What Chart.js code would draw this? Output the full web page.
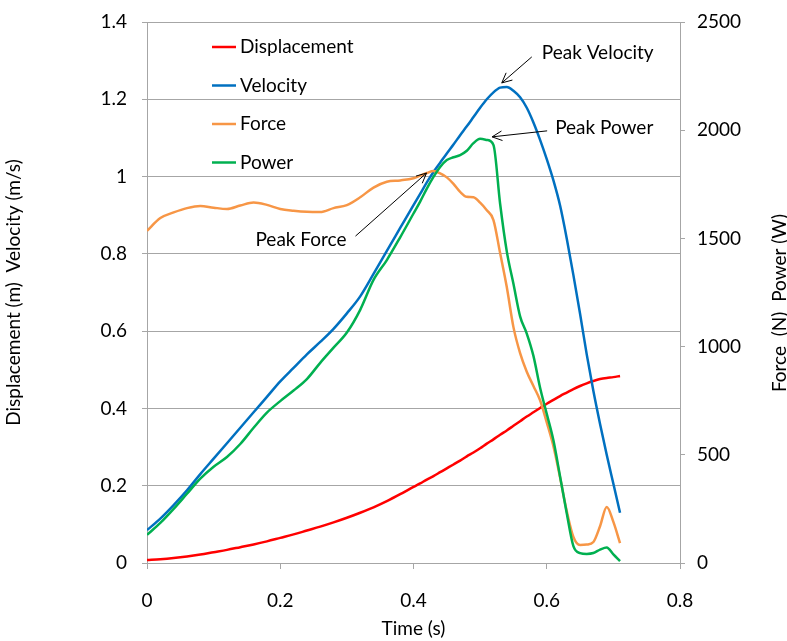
<!DOCTYPE html>
<html>
<head>
<meta charset="utf-8">
<script src="https://cdn.jsdelivr.net/npm/chart.js@4.4.1/dist/chart.umd.min.js"></script>
<style>
  html, body { margin: 0; padding: 0; background: #fff; }
</style>
</head>
<body>
<canvas id="chart" width="787" height="641"></canvas>
<script>
// Tiempo (s): paso de 0.02 hasta 0.38, luego de 0.01
const times = [0, 0.02, 0.04, 0.06, 0.08, 0.10, 0.12, 0.14, 0.16, 0.18,
  0.20, 0.22, 0.24, 0.26, 0.28, 0.30, 0.32, 0.34, 0.36, 0.38,
  0.40, 0.41, 0.42, 0.43, 0.44, 0.45, 0.46, 0.47, 0.48, 0.49,
  0.50, 0.51, 0.52, 0.53, 0.54, 0.55, 0.56, 0.57, 0.58, 0.59,
  0.60, 0.61, 0.62, 0.63, 0.64, 0.65, 0.66, 0.67, 0.68, 0.69,
  0.70, 0.71];

// eje izquierdo (m, m/s)
const displacement = [0.008, 0.010, 0.013, 0.017, 0.022, 0.028, 0.034, 0.041, 0.048, 0.056,
  0.065, 0.074, 0.084, 0.094, 0.105, 0.117, 0.130, 0.144, 0.160, 0.178,
  0.197, 0.206, 0.216, 0.225, 0.235, 0.245, 0.255, 0.265, 0.276, 0.286,
  0.297, 0.309, 0.320, 0.332, 0.343, 0.355, 0.367, 0.379, 0.390, 0.401,
  0.412, 0.422, 0.432, 0.441, 0.450, 0.458, 0.465, 0.471, 0.476, 0.479,
  0.481, 0.484];
const velocity = [0.085, 0.115, 0.150, 0.188, 0.230, 0.270, 0.310, 0.350, 0.390, 0.430,
  0.470, 0.505, 0.540, 0.572, 0.606, 0.646, 0.690, 0.748, 0.808, 0.867,
  0.926, 0.955, 0.985, 1.012, 1.036, 1.060, 1.083, 1.107, 1.130, 1.154,
  1.178, 1.200, 1.218, 1.230, 1.232, 1.222, 1.205, 1.178, 1.140, 1.095,
  1.045, 0.990, 0.925, 0.840, 0.745, 0.645, 0.540, 0.445, 0.360, 0.280,
  0.205, 0.130];

// eje derecho (N, W)
const force = [1535, 1594, 1620, 1640, 1650, 1642, 1636, 1652, 1666, 1655,
  1636, 1628, 1623, 1622, 1640, 1654, 1690, 1735, 1762, 1768,
  1778, 1790, 1802, 1811, 1800, 1782, 1752, 1715, 1692, 1690,
  1665, 1630, 1585, 1432, 1275, 1090, 970, 884, 818, 752,
  650, 540, 395, 240, 120, 83, 85, 97, 170, 259,
  190, 92];
const power = [130, 185, 250, 320, 390, 445, 490, 550, 625, 695,
  748, 797, 850, 925, 995, 1065, 1170, 1308, 1400, 1505,
  1615, 1670, 1730, 1784, 1830, 1862, 1875, 1885, 1905, 1940,
  1960, 1955, 1932, 1660, 1440, 1290, 1140, 1060, 957, 810,
  689, 567, 400, 230, 78, 46, 42, 46, 62, 72,
  40, 9];

const seriesNames = ['Displacement', 'Velocity', 'Force', 'Power'];
const seriesColors = ['#FF0000', '#0070C0', '#F79646', '#00B050'];

const FONT = 'Lato, "Open Sans", sans-serif';
const GRID = '#A6A6A6';

const pts = vals => vals.map((v, i) => ({ x: times[i], y: v }));
const fmt = v => String(Math.round(v * 10) / 10);

// leyenda dentro del área de trazado
const insideLegend = {
  id: 'insideLegend',
  afterDraw(chart) {
    const { ctx, chartArea } = chart;
    ctx.save();
    ctx.font = '19px ' + FONT;
    ctx.textBaseline = 'middle';
    chart.data.datasets.forEach((ds, i) => {
      const x = chartArea.left + 65;
      const y = chartArea.top + 25 + i * 38.5;
      ctx.strokeStyle = ds.borderColor;
      ctx.lineWidth = 2.5;
      ctx.beginPath();
      ctx.moveTo(x, y);
      ctx.lineTo(x + 24, y);
      ctx.stroke();
      ctx.fillStyle = '#000';
      ctx.fillText(ds.label, x + 28, y);
    });
    ctx.restore();
  }
};

// flechas "Peak ..." ancladas al máximo de cada serie
const callouts = [
  { text: 'Peak Velocity', ds: 1, tip: [-5, -4], tail: [30, -26], label: [40, -30], align: 'left' },
  { text: 'Peak Power', ds: 3, tip: [12, -2], tail: [55, -6], label: [63, -9], align: 'left' },
  { text: 'Peak Force', ds: 2, tip: [-7, 2], tail: [-71, 63], label: [-80, 67], align: 'right' }
];

const peakCallouts = {
  id: 'peakCallouts',
  afterDraw(chart) {
    const { ctx } = chart;
    ctx.save();
    ctx.font = '19px ' + FONT;
    ctx.textBaseline = 'middle';
    ctx.strokeStyle = '#000';
    ctx.fillStyle = '#000';
    ctx.lineWidth = 1;
    callouts.forEach(c => {
      const data = chart.data.datasets[c.ds].data;
      const peak = data.reduce((a, b) => (b.y > a.y ? b : a));
      const meta = chart.getDatasetMeta(c.ds);
      const px = chart.scales.x.getPixelForValue(peak.x);
      const py = chart.scales[meta.yAxisID].getPixelForValue(peak.y);
      const tx = px + c.tip[0], ty = py + c.tip[1];
      const sx = tx + c.tail[0], sy = ty + c.tail[1];
      ctx.beginPath();
      ctx.moveTo(sx, sy);
      ctx.lineTo(tx, ty);
      const ang = Math.atan2(ty - sy, tx - sx);
      [0.45, -0.45].forEach(d => {
        ctx.moveTo(tx, ty);
        ctx.lineTo(tx - 11 * Math.cos(ang + d), ty - 11 * Math.sin(ang + d));
      });
      ctx.stroke();
      ctx.textAlign = c.align;
      ctx.fillText(c.text, tx + c.label[0], ty + c.label[1]);
    });
    ctx.restore();
  }
};

// título del eje derecho, leído de abajo arriba como en el original
const rightTitle = {
  id: 'rightTitle',
  afterDraw(chart) {
    const { ctx } = chart;
    ctx.save();
    ctx.translate(780, 303);
    ctx.rotate(-Math.PI / 2);
    ctx.font = '19px ' + FONT;
    ctx.fillStyle = '#000';
    ctx.textAlign = 'center';
    ctx.textBaseline = 'middle';
    ctx.fillText('Force  (N)  Power (W)', 0, 0);
    ctx.restore();
  }
};

// anchos fijos de los ejes, sin relleno extra para etiquetas
const fixVertical = w => s => {
  s.width = w;
  s.paddingTop = 0;
  s.paddingBottom = 0;
};

const seriesData = [displacement, velocity, force, power];
const axisFor = ['y', 'y', 'y1', 'y1'];
const drawOrder = [3, 2, 1, 0];

new Chart(document.getElementById('chart'), {
  type: 'line',
  data: {
    datasets: seriesNames.map((name, i) => ({
      label: name,
      data: pts(seriesData[i]),
      yAxisID: axisFor[i],
      borderColor: seriesColors[i],
      backgroundColor: seriesColors[i],
      borderWidth: 2.5,
      pointRadius: 0,
      cubicInterpolationMode: 'monotone',
      fill: false,
      order: drawOrder[i]
    }))
  },
  options: {
    responsive: false,
    animation: false,
    layout: { padding: { top: 22, left: 0, right: 0, bottom: 0 } },
    plugins: {
      legend: { display: false },
      tooltip: { enabled: false }
    },
    scales: {
      x: {
        type: 'linear',
        min: 0,
        max: 0.8,
        ticks: {
          stepSize: 0.2,
          padding: 20,
          color: '#000',
          font: { family: FONT, size: 19 },
          callback: fmt,
          maxRotation: 0
        },
        grid: { drawOnChartArea: false, color: GRID, tickLength: 6 },
        border: { color: GRID },
        title: {
          display: true,
          text: 'Time (s)',
          color: '#000',
          font: { family: FONT, size: 19 },
          padding: { top: 0, bottom: 1 }
        },
        afterFit: s => {
          s.height = 78;
          s.paddingLeft = 0;
          s.paddingRight = 0;
        }
      },
      y: {
        position: 'left',
        min: 0,
        max: 1.4,
        ticks: {
          stepSize: 0.2,
          padding: 15,
          color: '#000',
          font: { family: FONT, size: 19 },
          callback: fmt
        },
        grid: { color: GRID, tickLength: 5 },
        border: { color: GRID },
        title: {
          display: true,
          text: 'Displacement (m)  Velocity (m/s)',
          color: '#000',
          font: { family: FONT, size: 19 },
          padding: { top: 2, bottom: 0 }
        },
        afterFit: fixVertical(147)
      },
      y1: {
        position: 'right',
        min: 0,
        max: 2500,
        ticks: {
          stepSize: 500,
          padding: 12,
          color: '#000',
          font: { family: FONT, size: 19 },
          callback: v => String(v)
        },
        grid: { drawOnChartArea: false, color: GRID, tickLength: 5 },
        border: { color: GRID },
        afterFit: fixVertical(107)
      }
    }
  },
  plugins: [insideLegend, peakCallouts, rightTitle]
});
</script>
</body>
</html>
